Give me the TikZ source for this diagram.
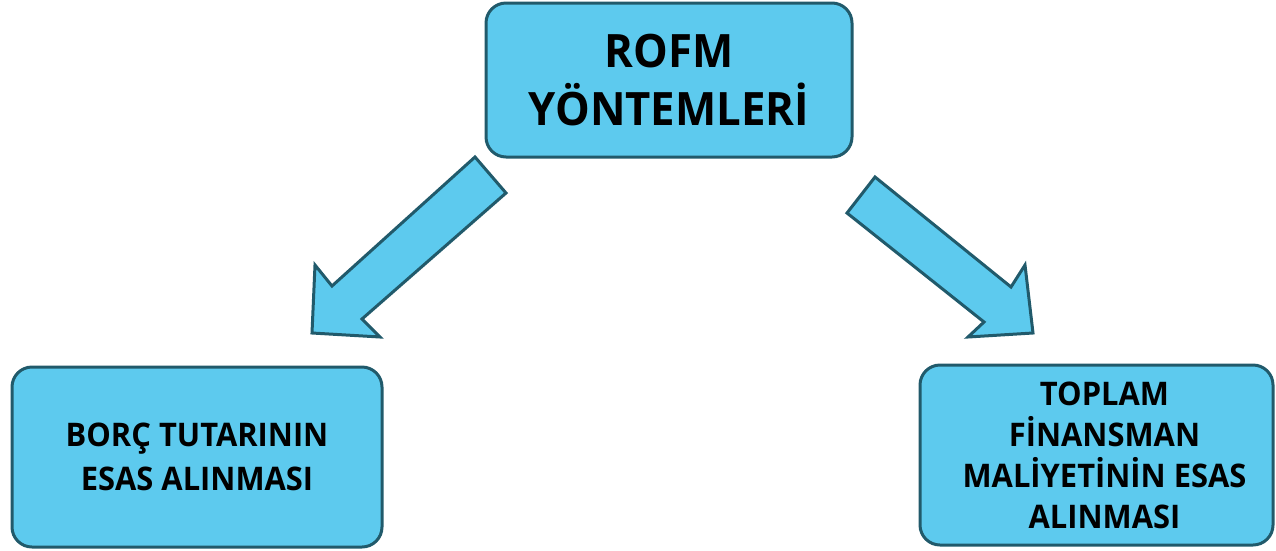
\documentclass[tikz,border=0pt]{standalone}
\usepackage{fontspec}
\setmainfont{Open Sans}[BoldFont={Open Sans Bold},FakeStretch=0.95]
\definecolor{boxfill}{HTML}{5DCAEE}
\definecolor{boxline}{HTML}{215A6B}
\begin{document}
\begin{tikzpicture}[x=1pt,y=-1pt,
  box/.style={draw=boxline,fill=boxfill,line width=3pt,rounded corners=20pt,
    align=center,inner sep=0pt,font=\bfseries},
  blockarrow/.style={draw=boxline,fill=boxfill,line width=3pt,line join=miter}]
\useasboundingbox (0,0) rectangle (1276,550);
% top box
\node[box,minimum width=366pt,minimum height=154pt,font=\bfseries\fontsize{46}{58}\selectfont] (top) at (669,80)
  {ROFM\\YÖNTEMLERİ};
% left box
\node[box,minimum width=370pt,minimum height=180pt,font=\bfseries\fontsize{32.5}{44}\selectfont] (left) at (197,457)
  {BORÇ TUTARININ\\ESAS ALINMASI};
% right box
\node[box,minimum width=353pt,minimum height=180pt,font=\bfseries\fontsize{32.5}{41}\selectfont] (right) at (1096.5,455)
  {\hspace*{16pt}TOPLAM\\\hspace*{16pt}FİNANSMAN\\\hspace*{16pt}MALİYETİNİN ESAS\\\hspace*{16pt}ALINMASI};
% left block arrow
\draw[blockarrow] (475,157) -- (506,193) -- (362,319) -- (380,337) -- (312,333)
  -- (315,265) -- (332,286) -- cycle;
% right block arrow
\draw[blockarrow] (875,177) -- (847,213) -- (984,322) -- (968,337) -- (1033,333)
  -- (1025,265) -- (1011,287) -- cycle;
\end{tikzpicture}
\end{document}
